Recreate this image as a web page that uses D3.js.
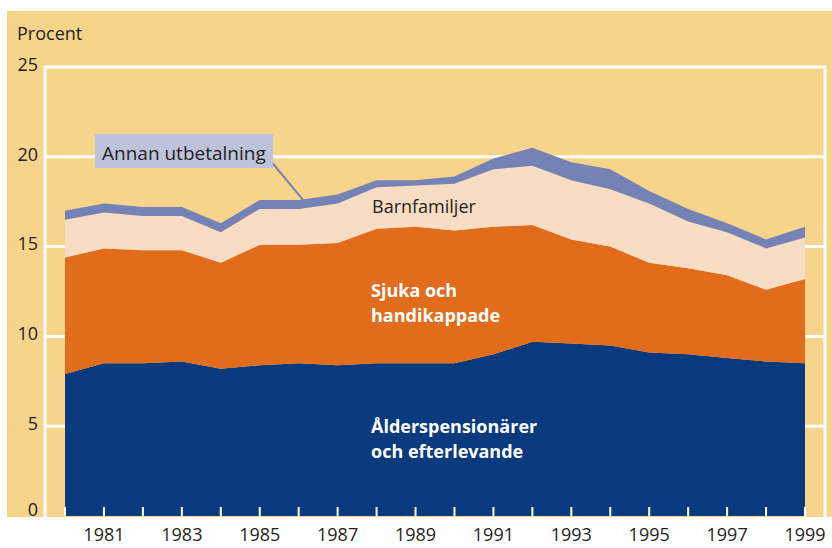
<!DOCTYPE html>
<html>
<head>
<meta charset="utf-8">
<script src="https://cdn.jsdelivr.net/npm/d3@7"></script>
<style>
  html, body { margin: 0; padding: 0; background: #fff; }
  svg { display: block; font-family: "Open Sans", sans-serif; }
</style>
</head>
<body>
<svg id="chart" width="832" height="548"></svg>
<script>
// ===== Data (procent) =====
const years = d3.range(1980, 2000);
const alder  = [7.9, 8.5, 8.5, 8.6, 8.2, 8.4, 8.5, 8.4, 8.5, 8.5, 8.5, 9.0, 9.7, 9.6, 9.5, 9.1, 9.0, 8.8, 8.6, 8.5];
const sjuka  = [6.5, 6.4, 6.3, 6.2, 5.9, 6.7, 6.6, 6.8, 7.5, 7.6, 7.4, 7.1, 6.5, 5.8, 5.5, 5.0, 4.8, 4.6, 4.0, 4.7];
const barn   = [2.1, 2.0, 1.9, 1.9, 1.7, 2.0, 2.0, 2.2, 2.3, 2.3, 2.6, 3.2, 3.3, 3.3, 3.2, 3.3, 2.6, 2.4, 2.3, 2.3];
const annan  = [0.5, 0.5, 0.5, 0.5, 0.5, 0.5, 0.5, 0.5, 0.4, 0.3, 0.4, 0.6, 1.0, 1.0, 1.1, 0.7, 0.7, 0.5, 0.5, 0.6];
const yTicks = [0, 5, 10, 15, 20, 25];
const xTickLabels = [1981, 1983, 1985, 1987, 1989, 1991, 1993, 1995, 1997, 1999];

const keys = ["alder", "sjuka", "barn", "annan"];
const colors = { alder: "#0a3a7e", sjuka: "#e06c1c", barn: "#f8dcc4", annan: "#7582b5" };

// ===== Layout =====
const svg = d3.select("#chart");
const x = d3.scaleLinear().domain([1980, 1999]).range([65, 805]);
const y = d3.scaleLinear().domain([0, 25]).range([516, 67]);
const gridLeft = 45, gridRight = 825;
const textCol = "#231f20";

// panel background
svg.append("rect").attr("x", 7).attr("y", 11).attr("width", 825).attr("height", 506)
  .attr("fill", "#f6d48b");

// gridlines
svg.append("g").selectAll("line").data(yTicks.filter(d => d > 0)).join("line")
  .attr("x1", gridLeft).attr("x2", gridRight)
  .attr("y1", d => y(d)).attr("y2", d => y(d))
  .attr("stroke", "#fff").attr("stroke-width", 3);
svg.append("line").attr("x1", gridLeft).attr("x2", gridLeft)
  .attr("y1", y(25) - 1.5).attr("y2", y(0) + 1)
  .attr("stroke", "#fff").attr("stroke-width", 3);
svg.append("line").attr("x1", gridRight).attr("x2", gridRight)
  .attr("y1", y(25) - 1.5).attr("y2", y(0) + 1)
  .attr("stroke", "#fff").attr("stroke-width", 3);

// stacked areas
const table = years.map((yr, i) => ({ year: yr, alder: alder[i], sjuka: sjuka[i], barn: barn[i], annan: annan[i] }));
const series = d3.stack().keys(keys)(table);
const area = d3.area()
  .x(d => x(d.data.year))
  .y0(d => y(d[0]))
  .y1(d => y(d[1]));
svg.append("g").selectAll("path").data(series).join("path")
  .attr("fill", d => colors[d.key])
  .attr("d", area);

// year ticks (white, inside the bottom of the plot)
svg.append("g").selectAll("line").data(years).join("line")
  .attr("x1", d => x(d)).attr("x2", d => x(d))
  .attr("y1", y(0) - 9).attr("y2", y(0) + 1)
  .attr("stroke", "#fff").attr("stroke-width", 2);

// y tick labels
svg.append("g").selectAll("text").data(yTicks).join("text")
  .attr("x", 38).attr("y", d => d === 0 ? y(d) - 5 : y(d) - 1)
  .attr("text-anchor", "end").attr("dominant-baseline", "middle")
  .attr("font-size", 18).attr("fill", textCol)
  .text(d => d);

svg.append("text").attr("x", 17).attr("y", 40)
  .attr("font-size", 18).attr("fill", textCol).text("Procent");

// x tick labels
svg.append("g").selectAll("text").data(xTickLabels).join("text")
  .attr("x", d => x(d)).attr("y", 541)
  .attr("text-anchor", "middle")
  .attr("font-size", 18).attr("fill", textCol)
  .text(d => d);

// series labels
svg.append("text").attr("x", 372).attr("y", 213)
  .attr("font-size", 18).attr("fill", textCol).text("Barnfamiljer");

const white = [
  { t: "Sjuka och", y: 297 }, { t: "handikappade", y: 322 },
  { t: "Ålderspensionärer", y: 433 }, { t: "och efterlevande", y: 458 }
];
svg.append("g").selectAll("text").data(white).join("text")
  .attr("x", 371).attr("y", d => d.y)
  .attr("font-size", 18).attr("font-weight", "bold").attr("fill", "#fff")
  .text(d => d.t);

// annotation: Annan utbetalning
const ax = x(1986.15), ay = y(17.5);
svg.append("line").attr("x1", 269).attr("y1", 159).attr("x2", ax).attr("y2", ay)
  .attr("stroke", "#7582b5").attr("stroke-width", 2);
svg.append("rect").attr("x", 95).attr("y", 134).attr("width", 178).attr("height", 34)
  .attr("fill", "#bec3dc");
svg.append("text").attr("x", 102).attr("y", 160)
  .attr("font-size", 19).attr("fill", textCol).text("Annan utbetalning");
</script>
</body>
</html>
